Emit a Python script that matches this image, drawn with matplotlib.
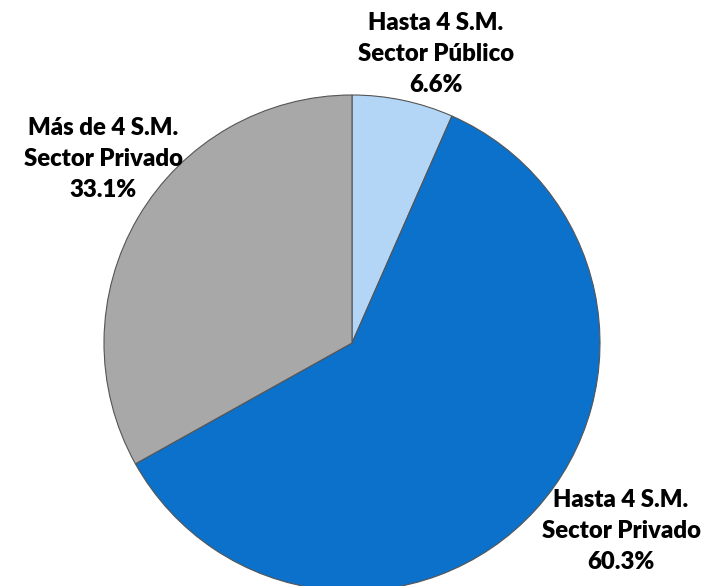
import matplotlib.pyplot as plt

labels = ['Hasta 4 S.M.\nSector Público\n6.6%',
          'Hasta 4 S.M.\nSector Privado\n60.3%',
          'Más de 4 S.M.\nSector Privado\n33.1%']
shares = [6.6, 60.3, 33.1]
colors = ['#b4d6f6', '#0b71cb', '#a8a8a8']

fig = plt.figure(figsize=(7.02, 5.86), dpi=100)
ax = fig.add_axes([0, 0, 1, 1])

ax.pie(shares, colors=colors, startangle=90, counterclock=False,
       center=(352, 243), radius=248, frame=True,
       wedgeprops=dict(edgecolor='#555555', linewidth=0.8))
ax.set_xlim(0, 702)
ax.set_ylim(0, 586)
ax.axis('off')

# label positions (pixels from bottom-left, centre of text block)
pos = [(436, 532), (621, 55), (103, 427)]
for text, (x, y) in zip(labels, pos):
    ax.text(x, y, text, ha='center', va='center', fontsize=17.2,
            fontweight='heavy', family='Lato', linespacing=1.5)

fig.savefig('out.png', dpi=100)
